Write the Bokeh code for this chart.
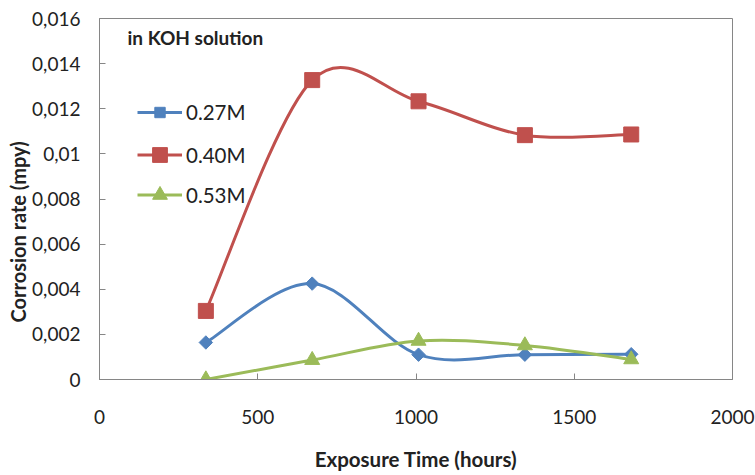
import math
from bokeh.plotting import figure
from bokeh.models import FixedTicker, Label, Legend, LegendItem, Title, ColumnDataSource
from bokeh.core.properties import value
from bokeh.embed import file_html
from bokeh.resources import INLINE

# ---- data ----
hours = [336, 672, 1008, 1344, 1680]
rate_027 = [0.00164, 0.00425, 0.00110, 0.00110, 0.00112]
rate_040 = [0.00304, 0.01327, 0.01233, 0.01083, 0.01086]
rate_053 = [0.00000, 0.00086, 0.00171, 0.00151, 0.00089]
series_names = ["0.27M", "0.40M", "0.53M"]
series_colors = ["#4F81BD", "#C0504D", "#9BBB59"]

x_ticks = [0, 500, 1000, 1500, 2000]
x_tick_labels = ["0", "500", "1000", "1500", "2000"]
y_ticks = [0, 0.002, 0.004, 0.006, 0.008, 0.01, 0.012, 0.014, 0.016]
y_tick_labels = ["0", "0,002", "0,004", "0,006", "0,008", "0,01", "0,012", "0,014", "0,016"]

title_text = "in KOH solution"
x_title = "Exposure Time (hours)"
y_title = "Corrosion rate (mpy)"

FONT = "Lato"
TXT = "#222222"
AX = "#868686"


def smooth_source(xs, ys):
    """Bezier segments through the points (smoothed line, Catmull-Rom style)."""
    n = len(xs)
    d = dict(x0=[], y0=[], x1=[], y1=[], cx0=[], cy0=[], cx1=[], cy1=[])
    for i in range(n - 1):
        a = max(i - 1, 0)
        b = min(i + 2, n - 1)
        d["x0"].append(xs[i]); d["y0"].append(ys[i])
        d["x1"].append(xs[i + 1]); d["y1"].append(ys[i + 1])
        d["cx0"].append(xs[i] + (xs[i + 1] - xs[a]) / 6.0)
        d["cy0"].append(ys[i] + (ys[i + 1] - ys[a]) / 6.0)
        d["cx1"].append(xs[i + 1] - (xs[b] - xs[i]) / 6.0)
        d["cy1"].append(ys[i + 1] - (ys[b] - ys[i]) / 6.0)
    return ColumnDataSource(d)


p = figure(width=755, height=475, x_range=(0, 2000), y_range=(0, 0.016),
           output_backend="svg", toolbar_location=None,
           min_border_left=99, min_border_right=23, min_border_top=18, min_border_bottom=96)
p.background_fill_color = "white"
p.border_fill_color = "white"
p.outline_line_color = AX
p.outline_line_width = 1
p.xgrid.visible = False
p.ygrid.visible = False

p.xaxis.ticker = FixedTicker(ticks=x_ticks)
p.yaxis.ticker = FixedTicker(ticks=y_ticks)
p.xaxis.major_label_overrides = dict(zip(x_ticks, x_tick_labels))
p.yaxis.major_label_overrides = dict(zip(y_ticks, y_tick_labels))
for ax in (p.xaxis[0], p.yaxis[0]):
    ax.axis_line_color = AX
    ax.major_tick_line_color = AX
    ax.major_tick_in = 6
    ax.major_tick_out = 0
    ax.minor_tick_in = 0
    ax.minor_tick_out = 0
    ax.major_label_text_font = FONT
    ax.major_label_text_font_size = "19px"
    ax.major_label_text_color = TXT
p.xaxis.major_label_standoff = 30
p.yaxis.major_label_standoff = 19

# x title as the axis label (centred like the reference)
p.xaxis.axis_label = x_title
p.xaxis.axis_label_standoff = 20
p.xaxis.axis_label_text_font = FONT
p.xaxis.axis_label_text_font_size = "20.5px"
p.xaxis.axis_label_text_font_style = "bold"
p.xaxis.axis_label_text_color = TXT

# y title sits a bit below the frame centre in the reference
p.add_layout(Title(text=y_title, align="left", offset=57, text_font=FONT,
                   text_font_size="20px", text_font_style="bold", text_color=TXT,
                   standoff=0), "left")

markers = [dict(marker="square", size=9.5, angle=math.pi / 4),
           dict(marker="square", size=15, angle=0.0),
           dict(marker="triangle", size=15, angle=0.0)]
series = [rate_027, rate_040, rate_053]

legend_glyph_h = [26, 37, 37]
legend_bottom = [254, 206, 166]

for name, color, ys, mk, gh, yb in zip(series_names, series_colors, series, markers,
                                       legend_glyph_h, legend_bottom):
    src = smooth_source(hours, ys)
    bez = p.bezier(x0="x0", y0="y0", x1="x1", y1="y1", cx0="cx0", cy0="cy0",
                   cx1="cx1", cy1="cy1", source=src, line_color=color, line_width=3)
    sc = p.scatter(x=hours, y=ys, marker=mk["marker"], size=mk["size"], angle=mk["angle"],
                   fill_color=color, line_color=color, line_width=1)
    leg = Legend(items=[LegendItem(label=value(name), renderers=[bez, sc])],
                 location=(38, yb), glyph_width=45, glyph_height=gh, label_height=gh,
                 label_standoff=4, padding=0, margin=0, spacing=0,
                 border_line_alpha=0, background_fill_alpha=0,
                 label_text_font=FONT, label_text_font_size="20.5px", label_text_color=TXT)
    p.add_layout(leg)

p.add_layout(Label(x=28, y=342, x_units="screen", y_units="screen", text=title_text,
                   text_font=FONT, text_font_size="19px", text_font_style="bold",
                   text_color=TXT, text_baseline="middle"))

open("out.html", "w").write(file_html(p, INLINE))
